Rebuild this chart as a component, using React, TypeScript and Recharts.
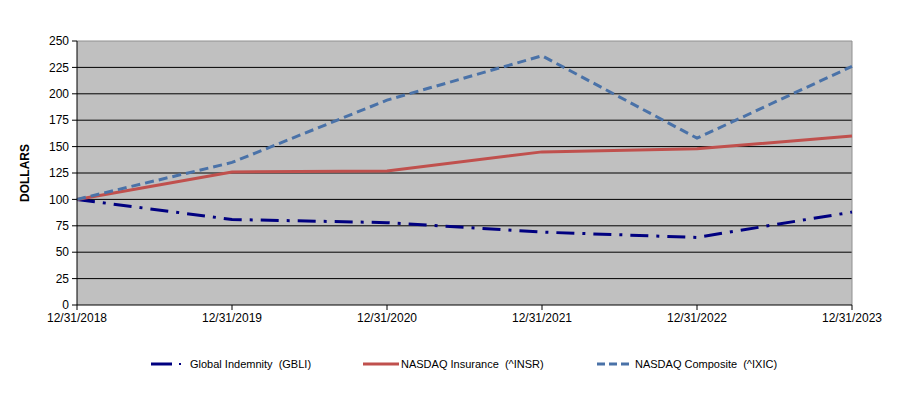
import React from 'react';
import { LineChart, Line, XAxis, YAxis, CartesianGrid, ReferenceLine, Label } from 'recharts';

const categories = ['12/31/2018', '12/31/2019', '12/31/2020', '12/31/2021', '12/31/2022', '12/31/2023'];
const gbli = [100, 81, 78, 69, 64, 88];
const insr = [100, 126, 127, 145, 148, 160];
const ixic = [100, 135, 194, 236, 158, 226];
const yTicks = [0, 25, 50, 75, 100, 125, 150, 175, 200, 225, 250];

const series = [
  { key: 'gbli', name: 'Global Indemnity  (GBLI)', color: '#000080', dash: '18 8 3 8' },
  { key: 'insr', name: 'NASDAQ Insurance  (^INSR)', color: '#C0504D', dash: undefined as string | undefined },
  { key: 'ixic', name: 'NASDAQ Composite  (^IXIC)', color: '#4A72A8', dash: '9 5' },
];

const data = categories.map((c, i) => ({ date: c, gbli: gbli[i], insr: insr[i], ixic: ixic[i] }));

const FONT = '"Liberation Sans", Arial, sans-serif';

const legendPos = [
  { iconX: 151, textX: 190 },
  { iconX: 363, textX: 401 },
  { iconX: 597, textX: 635 },
];

export default function App() {
  return (
    <div style={{ position: 'absolute', left: 0, top: 0, width: 904, height: 396, background: '#fff', fontFamily: FONT }}>
      <LineChart width={904} height={396} data={data} margin={{ top: 41, right: 52, bottom: 61, left: 47 }}>
        <CartesianGrid
          vertical={false}
          horizontalValues={[25, 50, 75, 100, 125, 150, 175, 200, 225]}
          stroke="#000"
          strokeOpacity={1}
          fill="#C0C0C0"
          fillOpacity={1}
        />
        <XAxis
          dataKey="date"
          height={30}
          tick={{ fill: '#000', fontSize: 12, fontFamily: FONT }}
          tickSize={5}
          tickMargin={3}
          stroke="#000"
          interval={0}
        />
        <YAxis
          domain={[0, 250]}
          ticks={yTicks}
          width={30}
          tick={{ fill: '#000', fontSize: 12, fontFamily: FONT }}
          tickSize={5}
          tickMargin={3}
          stroke="#000"
          interval={0}
        >
          <Label
            value="DOLLARS"
            angle={-90}
            position="insideLeft"
            offset={-22}
            style={{ fill: '#000', fontSize: 12, fontWeight: 'bold', fontFamily: FONT, textAnchor: 'middle' }}
          />
        </YAxis>
        <ReferenceLine y={250} stroke="#909090" strokeWidth={1} />
        <ReferenceLine x="12/31/2023" stroke="#909090" strokeWidth={1} />
        {series.map((s) => (
          <Line
            key={s.key}
            type="linear"
            dataKey={s.key}
            name={s.name}
            stroke={s.color}
            strokeWidth={3}
            strokeDasharray={s.dash}
            dot={false}
            activeDot={false}
            isAnimationActive={false}
          />
        ))}
      </LineChart>
      <svg width={904} height={30} style={{ position: 'absolute', left: 0, top: 348 }}>
        {series.map((s, i) => {
          const p = legendPos[i];
          let icon;
          if (s.key === 'gbli') {
            icon = (
              <g>
                <line x1={p.iconX} x2={p.iconX + 21} y1={16} y2={16} stroke={s.color} strokeWidth={3} />
                <line x1={p.iconX + 28} x2={p.iconX + 30} y1={16} y2={16} stroke={s.color} strokeWidth={2} />
              </g>
            );
          } else {
            icon = (
              <line x1={p.iconX} x2={p.iconX + 36} y1={16} y2={16} stroke={s.color} strokeWidth={3} strokeDasharray={s.dash ? '8 4' : undefined} />
            );
          }
          return (
            <g key={s.key}>
              {icon}
              <text x={p.textX} y={20} fontSize={11} fill="#000" fontFamily={FONT} style={{ whiteSpace: 'pre' }}>{s.name}</text>
            </g>
          );
        })}
      </svg>
    </div>
  );
}
